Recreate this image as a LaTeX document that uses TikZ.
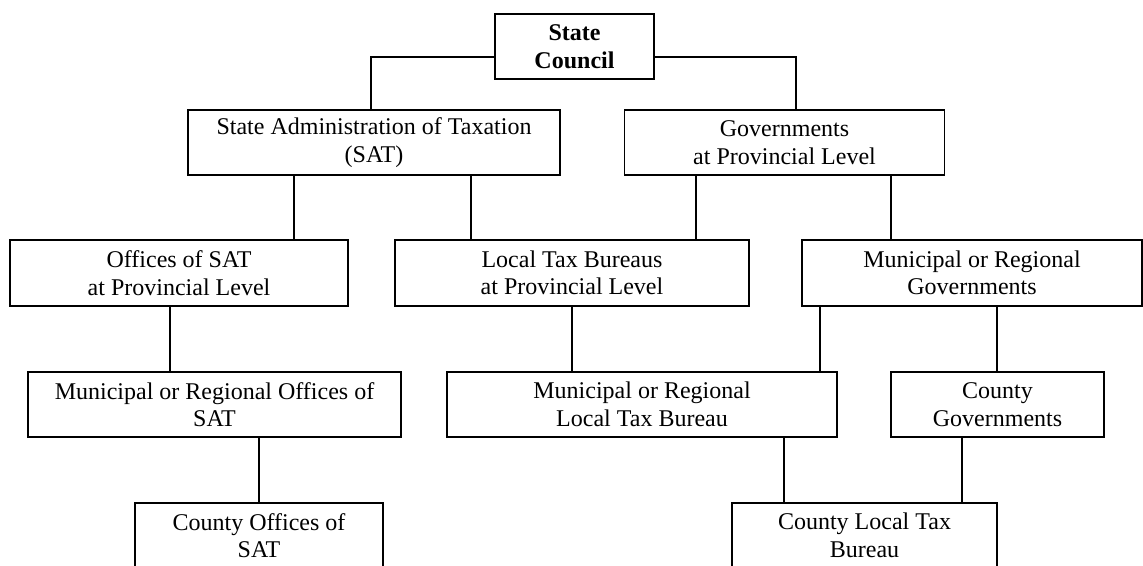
\documentclass[tikz,border=0pt]{standalone}
\usepackage{fontspec}
\setmainfont{Liberation Serif}
\usepackage{tikz}
\usetikzlibrary{positioning,calc}

\begin{document}
\begin{tikzpicture}[x=1pt,y=-1pt,
    unit/.style={draw,line width=1.5pt,inner sep=0pt,align=center,
        minimum height=65pt,font=\fontsize{24}{27.5}\selectfont},
    link/.style={line width=1.5pt}]
    \useasboundingbox (0,0) rectangle (1143,565);

    % top level
    \node[unit,minimum width=159pt,font=\fontsize{24}{27.5}\selectfont\bfseries] (council) at (574.5,46.5) {State\\Council};

    % second level
    \node[unit,minimum width=372pt] (sat) at (374,142.5) {State Administration of Taxation\\(SAT)};
    \node[unit,minimum width=320pt] (govprov) at (784.5,142.5) {Governments\\at Provincial Level};

    % provincial level
    \node[unit,minimum width=338pt,minimum height=66pt] (offprov) at (179,273) {Offices of SAT\\at Provincial Level};
    \node[unit,minimum width=354pt,minimum height=66pt] (ltbprov) at (572,273) {Local Tax Bureaus\\at Provincial Level};
    \node[unit,minimum width=340pt,minimum height=66pt] (munigov) at (972,273) {Municipal or Regional\\Governments};

    % municipal level
    \node[unit,minimum width=373pt] (munioff) at (214.5,404.5) {Municipal or Regional Offices of\\SAT};
    \node[unit,minimum width=390pt] (muniltb) at (642,404.5) {Municipal or Regional\\Local Tax Bureau};
    \node[unit,minimum width=213pt] (countygov) at (997.5,404.5) {County\\Governments};

    % county level
    \node[unit,minimum width=248pt] (countyoff) at (259,535.5) {County Offices of\\SAT};
    \node[unit,minimum width=265pt] (countyltb) at (864.5,535.5) {County Local Tax\\Bureau};

    % State Council branches
    \draw[link] ([yshift=-10.5pt]council.west) -| ([xshift=-3pt]sat.north);
    \draw[link] ([yshift=-10.5pt]council.east) -| ([xshift=11.5pt]govprov.north);

    % vertical links
    \foreach \from/\to/\dx in {sat/offprov/-80, sat/ltbprov/97,
        govprov/ltbprov/-88.5, govprov/munigov/106.5,
        offprov/munioff/-9, ltbprov/muniltb/0,
        munigov/muniltb/-152, munigov/countygov/25,
        munioff/countyoff/44.5, muniltb/countyltb/142,
        countygov/countyltb/-35.5}
        \draw[link] ([xshift=\dx pt]\from.south) -- ([xshift=\dx pt]\from.south |- \to.north);
\end{tikzpicture}
\end{document}
